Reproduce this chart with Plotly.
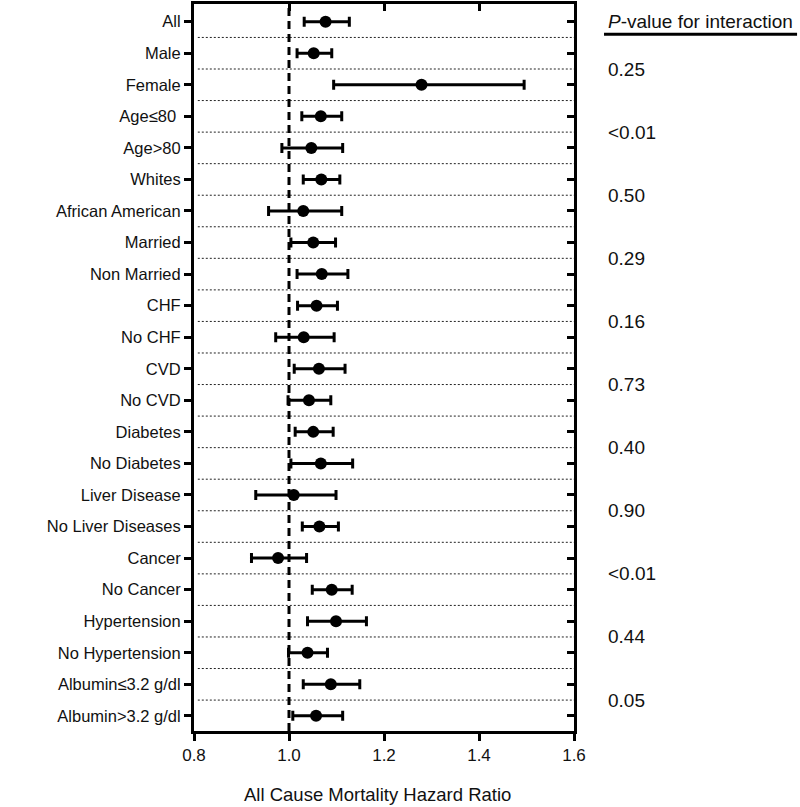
import plotly.graph_objects as go

labels = ["All", "Male", "Female", "Age\u226480\u00a0", "Age>80", "Whites", "African American",
          "Married", "Non Married", "CHF", "No CHF", "CVD", "No CVD", "Diabetes",
          "No Diabetes", "Liver Disease", "No Liver Diseases", "Cancer", "No Cancer",
          "Hypertension", "No Hypertension", "Albumin\u22643.2 g/dl", "Albumin>3.2 g/dl"]
hr = [1.077, 1.052, 1.279, 1.067, 1.047, 1.068, 1.030, 1.051, 1.069, 1.058, 1.031, 1.063,
      1.042, 1.051, 1.067, 1.010, 1.064, 0.977, 1.090, 1.099, 1.039, 1.088, 1.057]
lo = [1.032, 1.017, 1.094, 1.027, 0.985, 1.030, 0.957, 1.004, 1.017, 1.018, 0.972, 1.011,
      0.998, 1.013, 1.004, 0.930, 1.028, 0.921, 1.049, 1.039, 0.999, 1.030, 1.008]
hi = [1.127, 1.090, 1.495, 1.111, 1.113, 1.107, 1.111, 1.098, 1.124, 1.102, 1.095, 1.118,
      1.088, 1.093, 1.134, 1.099, 1.104, 1.037, 1.133, 1.163, 1.081, 1.149, 1.113]
p_values = ["0.25", "<0.01", "0.50", "0.29", "0.16", "0.73", "0.40", "0.90", "<0.01", "0.44", "0.05"]
x_ticks = [0.8, 1.0, 1.2, 1.4, 1.6]
x_title = "All Cause Mortality Hazard Ratio"
p_header = "<i>P</i>-value for interaction"

FONT = "Liberation Sans, Arial, sans-serif"
TXT = "#111111"
n = len(labels)
ypos = list(range(n))
yrange = [n - 1 + 0.48, -0.56]

fig = go.Figure()
fig.add_trace(go.Scatter(
    x=hr, y=ypos, mode="markers",
    marker=dict(color="black", size=12),
    error_x=dict(type="data", symmetric=False,
                 array=[h - m for h, m in zip(hi, hr)],
                 arrayminus=[m - l for m, l in zip(hr, lo)],
                 color="black", thickness=3, width=5),
    showlegend=False, hoverinfo="skip"))
# invisible trace to activate mirror axes
fig.add_trace(go.Scatter(x=[1.0], y=[0], xaxis="x2", yaxis="y2", mode="markers",
                         marker=dict(opacity=0), showlegend=False, hoverinfo="skip"))

shapes = []
for k in range(n - 1):
    shapes.append(dict(type="line", xref="paper", yref="y", x0=0.01, x1=1.0,
                       y0=k + 0.5, y1=k + 0.5,
                       line=dict(color="#222222", width=1, dash="2px,2px")))
shapes.append(dict(type="line", xref="x", yref="paper", x0=1.0, x1=1.0, y0=0, y1=1,
                   line=dict(color="black", width=3, dash="8px,5px")))
# header underline
shapes.append(dict(type="line", xref="paper", yref="y", x0=1.079, x1=1.587,
                   y0=0.4, y1=0.4, line=dict(color="black", width=3)))

annotations = [dict(xref="paper", yref="y", x=1.084, y=-0.02, text=p_header,
                    showarrow=False, xanchor="left", yanchor="middle",
                    font=dict(family=FONT, size=19, color=TXT)),
               dict(xref="paper", yref="paper", x=0.482, y=-0.088, text=x_title,
                    showarrow=False, xanchor="center", yanchor="middle",
                    font=dict(family=FONT, size=18.5, color=TXT))]
for i, pv in enumerate(p_values):
    annotations.append(dict(xref="paper", yref="y", x=1.084, y=2 * i + 1.5, text=pv,
                            showarrow=False, xanchor="left", yanchor="middle",
                            font=dict(family=FONT, size=19, color=TXT)))

fig.update_layout(
    width=800, height=807,
    margin=dict(l=194, r=226, t=4, b=76),
    plot_bgcolor="white", paper_bgcolor="white",
    font=dict(family=FONT, size=16.5, color=TXT),
    shapes=shapes, annotations=annotations,
    xaxis=dict(range=[0.8, 1.6], tickvals=x_ticks,
               ticktext=[f"{v:.1f}" for v in x_ticks],
               ticks="outside", ticklen=7, tickwidth=3, tickcolor="black",
               showline=True, linewidth=3, linecolor="black", showgrid=False,
               zeroline=False, automargin=False, tickfont=dict(size=17)),
    xaxis2=dict(range=[0.8, 1.6], overlaying="x", side="top", tickvals=[1.0, 1.2, 1.4],
                ticks="inside", ticklen=7, tickwidth=3, tickcolor="black",
                showticklabels=False, showline=True, linewidth=3, linecolor="black",
                showgrid=False, zeroline=False, automargin=False),
    yaxis=dict(range=yrange, tickvals=ypos, ticktext=labels,
               ticks="outside", ticklen=7, tickwidth=3, tickcolor="black",
               showline=True, linewidth=3, linecolor="black", showgrid=False,
               zeroline=False, automargin=False, tickfont=dict(size=16.5)),
    yaxis2=dict(range=yrange, overlaying="y", side="right", tickvals=ypos,
                ticks="inside", ticklen=7, tickwidth=3, tickcolor="black",
                showticklabels=False, showline=True, linewidth=3, linecolor="black",
                showgrid=False, zeroline=False, automargin=False),
)

fig.write_html("out.html", config={"displayModeBar": False},
               post_script="document.body.style.margin='0';document.body.style.overflow='hidden';")
